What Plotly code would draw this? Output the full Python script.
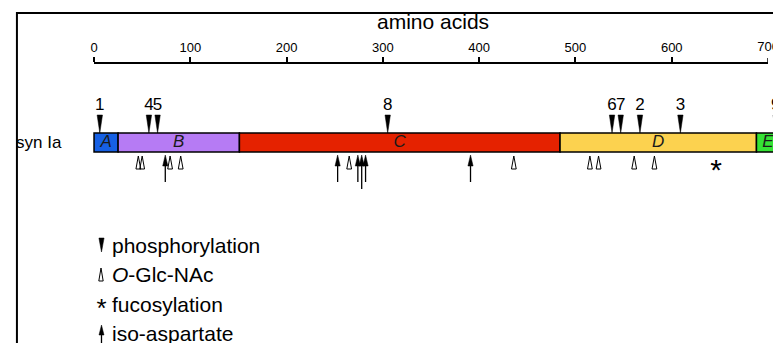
import plotly.graph_objects as go

# ---------------- data ----------------
protein_label = "syn Ia"
domain_names = ["A", "B", "C", "D", "E"]
domain_start = [0, 25, 151, 484, 688]
domain_end = [25, 151, 484, 688, 712]
domain_colors = ["#1660e4", "#b67bf4", "#e52200", "#fcd24f", "#35e335"]

phos_sites = [6, 57, 66, 305, 538, 547, 567, 609, 708]
phos_labels = ["1", "4", "5", "8", "6", "7", "2", "3", "9"]

glcnac_sites = [46, 50, 79, 90, 265, 436, 515, 524, 561, 582]
iso_asp_sites = [74, 253, 274, 278, 282, 391]
fuc_sites = [646]

axis_ticks = [0, 100, 200, 300, 400, 500, 600, 700]
axis_title = "amino acids"

legend_labels = ["phosphorylation", "<i>O</i>-Glc-NAc", "fucosylation", "iso-aspartate"]

# ---------------- geometry / style ----------------
W, H = 773, 343
FONT = "Liberation Sans, Arial, Helvetica, sans-serif"
AX_PX0, AX_PX1 = 90.5, 768.0
AX_Y = 63
TICK_LABEL_Y = 48
SCALE = (AX_PX1 - AX_PX0) / axis_ticks[-1]


def px2x(px):
    return (px - AX_PX0) / SCALE


def dx(px):
    return px / SCALE


BAR_TOP, BAR_BOT = 133, 152
BAR_MID = (BAR_TOP + BAR_BOT) / 2

PHOS_BASE, PHOS_TIP, PHOS_HW = 115, 133, 2.7
PHOS_LABEL_Y = 106
GLC_TIP, GLC_BASE, GLC_HW = 156, 169, 2.4
ISO_TIP, ISO_HEAD_BASE, ISO_HW = 155, 166, 2.6
ISO_SHAFT_END = [182, 182, 182, 189, 182, 182]
FUC_Y = 172


def triangles(xs, tip, base, hw):
    px, py = [], []
    for x in xs:
        px += [x - hw, x + hw, x, x - hw, None]
        py += [base, base, tip, base, None]
    return px, py


fig = go.Figure()

# protein domains
fig.add_trace(go.Bar(
    y=[BAR_MID] * len(domain_names),
    x=[e - s for s, e in zip(domain_start, domain_end)],
    base=domain_start, orientation="h", width=BAR_BOT - BAR_TOP,
    marker=dict(color=domain_colors, line=dict(color="black", width=1.5)),
    hoverinfo="skip", showlegend=False))

fig.add_trace(go.Scatter(
    x=[(s + e) / 2 for s, e in zip(domain_start, domain_end)],
    y=[BAR_MID] * len(domain_names), mode="text",
    text=[f"<i>{n}</i>" for n in domain_names],
    textfont=dict(size=17, color="#1a1a1a", family=FONT),
    hoverinfo="skip", showlegend=False))

# phosphorylation
tx, ty = triangles(phos_sites, PHOS_TIP, PHOS_BASE, dx(PHOS_HW))
fig.add_trace(go.Scatter(x=tx, y=ty, mode="lines", fill="toself",
                         fillcolor="black", line=dict(color="black", width=0.5),
                         hoverinfo="skip", showlegend=False))
fig.add_trace(go.Scatter(x=phos_sites, y=[PHOS_LABEL_Y] * len(phos_sites),
                         mode="text", text=phos_labels,
                         textfont=dict(size=17, color="black", family=FONT),
                         hoverinfo="skip", showlegend=False))

# O-GlcNAc
tx, ty = triangles(glcnac_sites, GLC_TIP, GLC_BASE, dx(GLC_HW))
fig.add_trace(go.Scatter(x=tx, y=ty, mode="lines", fill="toself",
                         fillcolor="white", line=dict(color="black", width=1),
                         hoverinfo="skip", showlegend=False))

# iso-aspartate
sx, sy = [], []
for x, end in zip(iso_asp_sites, ISO_SHAFT_END):
    sx += [x, x, None]
    sy += [ISO_HEAD_BASE - 1, end, None]
fig.add_trace(go.Scatter(x=sx, y=sy, mode="lines", line=dict(color="black", width=1.3),
                         hoverinfo="skip", showlegend=False))
tx, ty = triangles(iso_asp_sites, ISO_TIP, ISO_HEAD_BASE, dx(ISO_HW))
fig.add_trace(go.Scatter(x=tx, y=ty, mode="lines", fill="toself",
                         fillcolor="black", line=dict(color="black", width=0.5),
                         hoverinfo="skip", showlegend=False))

# fucosylation
fig.add_trace(go.Scatter(x=fuc_sites, y=[FUC_Y] * len(fuc_sites), mode="text",
                         text=["*"] * len(fuc_sites),
                         textfont=dict(size=30, color="black", family=FONT),
                         hoverinfo="skip", showlegend=False))

# last axis tick label, clipped at the figure edge like the reference
fig.add_trace(go.Scatter(x=[axis_ticks[-1]], y=[TICK_LABEL_Y], mode="text",
                         text=[str(axis_ticks[-1])], cliponaxis=True,
                         textfont=dict(size=13, color="black", family=FONT),
                         hoverinfo="skip", showlegend=False))

# ---------------- legend glyphs ----------------
LEG_X = 98
LEG_TEXT_X = 107
LEG_Y = [245, 274.5, 304, 333]

lx, ly = triangles([px2x(LEG_X)], 252, 238, dx(2.6))
fig.add_trace(go.Scatter(x=lx, y=ly, mode="lines", fill="toself", fillcolor="black",
                         line=dict(color="black", width=0.5), hoverinfo="skip", showlegend=False))
lx, ly = triangles([px2x(LEG_X - 0.5)], 268, 281, dx(2.2))
fig.add_trace(go.Scatter(x=lx, y=ly, mode="lines", fill="toself", fillcolor="white",
                         line=dict(color="black", width=1), hoverinfo="skip", showlegend=False))
fig.add_trace(go.Scatter(x=[px2x(LEG_X)], y=[310], mode="text", text=["*"],
                         textfont=dict(size=26, color="black", family=FONT),
                         hoverinfo="skip", showlegend=False))
fig.add_trace(go.Scatter(x=[px2x(LEG_X), px2x(LEG_X)], y=[334, 350], mode="lines",
                         line=dict(color="black", width=1.3), hoverinfo="skip", showlegend=False))
lx, ly = triangles([px2x(LEG_X)], 325, 335, dx(2.5))
fig.add_trace(go.Scatter(x=lx, y=ly, mode="lines", fill="toself", fillcolor="black",
                         line=dict(color="black", width=0.5), hoverinfo="skip", showlegend=False))

annotations = []
for lab, y in zip(legend_labels, LEG_Y):
    annotations.append(dict(text=lab, x=LEG_TEXT_X / W, xref="paper", y=y, yref="y",
                            xanchor="left", yanchor="middle", showarrow=False,
                            font=dict(size=21, color="black", family=FONT)))
annotations.append(dict(text=axis_title, x=431 / W, xref="paper", y=21, yref="y",
                        xanchor="center", yanchor="middle", showarrow=False,
                        font=dict(size=21, color="black", family=FONT)))
annotations.append(dict(text=protein_label, x=10 / W, xref="paper", y=BAR_MID, yref="y",
                        xanchor="left", yanchor="middle", showarrow=False,
                        font=dict(size=17, color="black", family=FONT)))

# axis scale (top)
fig.add_trace(go.Scatter(x=[axis_ticks[0], axis_ticks[-1]], y=[0, 0], xaxis="x2", yaxis="y2",
                         mode="markers", marker=dict(opacity=0), hoverinfo="skip",
                         showlegend=False))

fig.update_layout(
    width=W, height=H, autosize=False,
    margin=dict(l=0, r=0, t=0, b=0, pad=0),
    paper_bgcolor="white", plot_bgcolor="rgba(0,0,0,0)",
    barmode="overlay", showlegend=False,
    xaxis=dict(domain=[0, 1], range=[px2x(0), px2x(W)], visible=False, fixedrange=True),
    yaxis=dict(domain=[0, 1], range=[H, 0], visible=False, fixedrange=True),
    xaxis2=dict(domain=[AX_PX0 / W, AX_PX1 / W], range=[axis_ticks[0], axis_ticks[-1]],
                anchor="free", position=1 - AX_Y / H, side="top",
                showline=True, linecolor="black", linewidth=1.5,
                ticks="outside", ticklen=5, tickwidth=1.5, tickcolor="black",
                tickvals=axis_ticks[:-1], ticktext=[str(t) for t in axis_ticks[:-1]],
                tickfont=dict(size=13, family=FONT, color="black"),
                showgrid=False, zeroline=False, fixedrange=True),
    yaxis2=dict(domain=[0, 1], anchor="x2", range=[0, 1], visible=False, fixedrange=True),
    annotations=annotations,
    shapes=[dict(type="rect", xref="paper", yref="y", x0=13 / W, x1=1.1, y0=13, y1=H + 30,
                 line=dict(color="black", width=2), fillcolor="rgba(0,0,0,0)"),
            dict(type="line", xref="x2", yref="y", x0=axis_ticks[-1], x1=axis_ticks[-1],
                 y0=AX_Y - 5, y1=AX_Y, line=dict(color="black", width=1.5))],
)

fig.write_html("out.html")
